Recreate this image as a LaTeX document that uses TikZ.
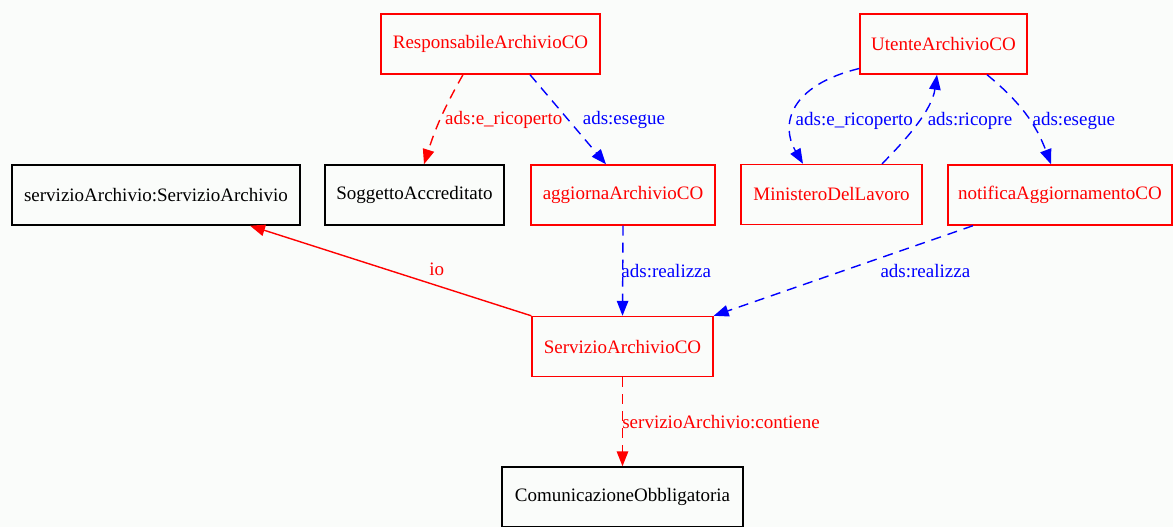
\documentclass[tikz,border=0pt]{standalone}
\usepackage{fontspec}
\setmainfont{Liberation Serif}
\usetikzlibrary{arrows.meta}
\definecolor{bg}{RGB}{250,252,250}
\definecolor{gvred}{RGB}{255,0,0}
\definecolor{gvblue}{RGB}{0,0,255}
\begin{document}
\begin{tikzpicture}[x=1pt,y=-1pt,
  box/.style={draw, rectangle, line width=1.4pt, minimum height=60pt,
    inner sep=0pt, font=\fontsize{19}{22}\selectfont},
  redbox/.style={box, draw=gvred, text=gvred},
  blackbox/.style={box, draw=black, text=black},
  lbl/.style={font=\fontsize{19}{22}\selectfont, inner sep=0pt},
  conn/.style={line width=1.4pt, -{Triangle[length=15pt,width=11.5pt]}},
  dsh/.style={dash pattern=on 10pt off 7pt},
]
% canvas
\fill[bg] (0,0) rectangle (1173,527);
\useasboundingbox (0,0) rectangle (1173,527);

% top row
\node[redbox, minimum width=219pt] (resp) at (490.5,44) {ResponsabileArchivioCO};
\node[redbox, minimum width=167pt] (utente) at (943.5,44) {UtenteArchivioCO};

% middle row
\node[blackbox, minimum width=288pt] (servArch) at (156,195) {servizioArchivio:ServizioArchivio};
\node[blackbox, minimum width=179pt] (sogg) at (414.5,195) {SoggettoAccreditato};
\node[redbox, minimum width=184pt] (aggiorna) at (623,195) {aggiornaArchivioCO};
\node[redbox, minimum width=181pt] (ministero) at (831.5,194.5) {MinisteroDelLavoro};
\node[redbox, minimum width=224pt] (notifica) at (1060,195) {notificaAggiornamentoCO};

% service and its content
\node[redbox, minimum width=181pt] (servCO) at (622.5,346.5) {ServizioArchivioCO};
\node[blackbox, minimum width=241pt] (comunic) at (622.5,497) {ComunicazioneObbligatoria};

% relations of ResponsabileArchivioCO
\draw[conn, dsh, gvred] ([xshift=-27.5pt]resp.south) to[bend right=6]
  node[lbl, text=gvred, xshift=63pt, yshift=-2pt] {ads:e\_ricoperto} ([xshift=9.5pt]sogg.north);
\draw[conn, dsh, gvblue] ([xshift=39.5pt]resp.south) --
  node[lbl, text=gvblue, xshift=56pt] {ads:esegue} ([xshift=-17pt]aggiorna.north);

% relations of UtenteArchivioCO
\draw[conn, dsh, gvblue] ([yshift=-24.5pt]utente.west) .. controls +(-70,17) and +(-23,-39) ..
  node[lbl, text=gvblue, xshift=58pt, yshift=-13pt] {ads:e\_ricoperto} ([xshift=-28.5pt]ministero.north);
\draw[conn, dsh, gvblue] ([xshift=50.5pt]ministero.north) .. controls +(25,-25) and +(-5,35) ..
  node[lbl, text=gvblue, xshift=53pt, yshift=2pt] {ads:ricopre} ([xshift=-6.5pt]utente.south);
\draw[conn, dsh, gvblue] ([xshift=43.5pt]utente.south) to[bend left=15]
  node[lbl, text=gvblue, xshift=48pt, yshift=-6pt] {ads:esegue} ([xshift=-9pt]notifica.north);

% realisations of the service
\draw[conn, dsh, gvblue] (aggiorna.south) --
  node[lbl, text=gvblue, xshift=43.5pt] {ads:realizza} (servCO.north);
\draw[conn, dsh, gvblue] ([xshift=-87pt]notifica.south) --
  node[lbl, text=gvblue, xshift=82pt] {ads:realizza} (servCO.north east);

% service relations
\draw[conn, gvred] (servCO.north west) --
  node[lbl, text=gvred, xshift=46pt, yshift=1.5pt] {io} ([xshift=94pt]servArch.south);
\draw[conn, dsh, gvred] (servCO.south) --
  node[lbl, text=gvred, xshift=98.5pt] {servizioArchivio:contiene} (comunic.north);
\end{tikzpicture}
\end{document}
